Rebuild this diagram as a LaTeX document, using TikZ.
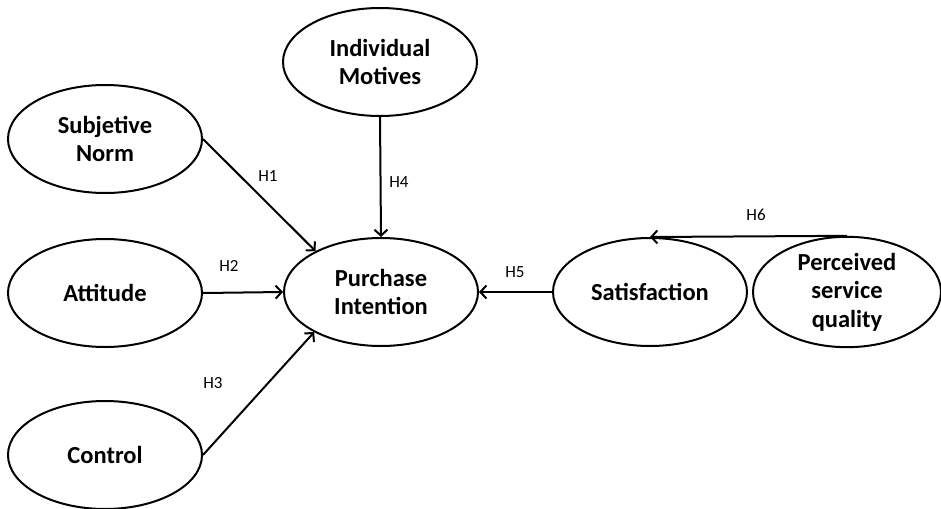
\documentclass[tikz,border=0pt]{standalone}
\usepackage{fontspec}
\setmainfont{Carlito}
\usetikzlibrary{shapes.geometric,arrows.meta}
\tikzset{
  construct/.style={ellipse,draw,line width=2pt,minimum width=194pt,minimum height=108pt,inner sep=0pt,align=center,font=\fontsize{24.5}{28.5}\selectfont\bfseries},
  link/.style={line width=2pt,-{Straight Barb[length=6pt,width=13pt,line width=2pt]}},
  hyp/.style={font=\fontsize{17}{20}\selectfont}
}
\begin{document}
\begin{tikzpicture}[x=1pt,y=-1pt]
\useasboundingbox (0,0) rectangle (941,508);
\node[construct] (im) at (380,62) {Individual\\Motives};
\node[construct] (sn) at (105,139) {Subjetive\\Norm};
\node[construct] (att) at (105,293) {Attitude};
\node[construct] (ctl) at (105,455) {Control};
\node[construct] (pi) at (381,292) {Purchase\\Intention};
\node[construct] (sat) at (650,292) {Satisfaction};
\node[construct,minimum width=188pt] (pq) at (847,292) {Perceived\\service\\quality};
\draw[link] (sn.east) -- (pi.148);
\draw[link] (att.east) -- (pi.west);
\draw[link] (ctl.east) -- (pi.211);
\draw[link] (im.south) -- (pi.north);
\draw[link] (sat.west) -- (pi.east);
\draw[link] (pq.north) -- (sat.north);
\node[hyp] (h1) at (268,176) {H1};
\node[hyp] (h2) at (229,266) {H2};
\node[hyp] (h3) at (213,383) {H3};
\node[hyp] (h4) at (399,182) {H4};
\node[hyp] (h5) at (515,272) {H5};
\node[hyp] (h6) at (756,215) {H6};
\end{tikzpicture}
\end{document}
